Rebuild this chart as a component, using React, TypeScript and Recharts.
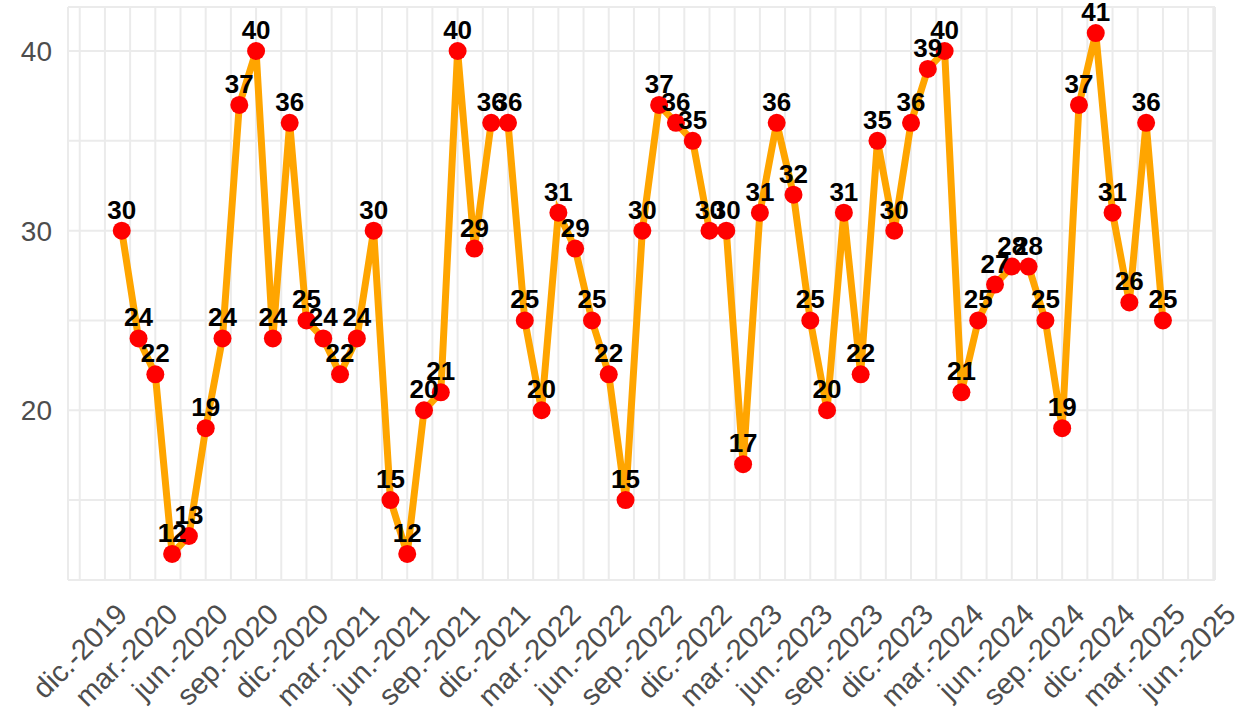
import React from "react";
import { LineChart, Line, XAxis, YAxis, CartesianGrid, LabelList } from "recharts";

// monthly values, jan-2020 .. mar-2025
const values = [
  30, 24, 22, 12, 13, 19, 24, 37, 40, 24, 36, 25,
  24, 22, 24, 30, 15, 12, 20, 21, 40, 29, 36, 36,
  25, 20, 31, 29, 25, 22, 15, 30, 37, 36, 35, 30,
  30, 17, 31, 36, 32, 25, 20, 31, 22, 35, 30, 36,
  39, 40, 21, 25, 27, 28, 28, 25, 19, 37, 41, 31,
  26, 36, 25,
];

// x is month index from jan-2020
const majorTicks = [-1, 2, 5, 8, 11, 14, 17, 20, 23, 26, 29, 32, 35, 38, 41, 44, 47, 50, 53, 56, 59, 62, 65];
const tickLabels = [
  "dic.-2019", "mar.-2020", "jun.-2020", "sep.-2020", "dic.-2020", "mar.-2021",
  "jun.-2021", "sep.-2021", "dic.-2021", "mar.-2022", "jun.-2022", "sep.-2022",
  "dic.-2022", "mar.-2023", "jun.-2023", "sep.-2023", "dic.-2023", "mar.-2024",
  "jun.-2024", "sep.-2024", "dic.-2024", "mar.-2025", "jun.-2025",
];
const minorTicks = [-2.5, 0.5, 3.5, 6.5, 9.5, 12.5, 15.5, 18.5, 21.5, 24.5, 27.5, 30.5, 33.5, 36.5, 39.5, 42.5, 45.5, 48.5, 51.5, 54.5, 57.5, 60.5, 63.5];
const yTicks = [15, 20, 25, 30, 35, 40];
const yLabeled = [20, 30, 40];

const data = values.map((v, i) => ({ m: i, v }));
const xTicks = [...majorTicks, ...minorTicks].sort((a, b) => a - b);

const FONT = '"Liberation Sans", Arial, sans-serif';

const XTick = (props: any) => {
  const { x, y, payload } = props;
  const idx = majorTicks.indexOf(payload.value);
  if (idx < 0) return null;
  const tx = x + 24;
  const ty = y + 28;
  return (
    <text
      x={tx}
      y={ty}
      textAnchor="end"
      transform={`rotate(-45, ${tx}, ${ty})`}
      fill="#4D4D4D"
      fontSize={29}
      fontFamily={FONT}
    >
      {tickLabels[idx]}
    </text>
  );
};

const PointLabel = (props: any) => {
  const { x, y, value } = props;
  return (
    <text x={x} y={y - 12} textAnchor="middle" fill="#000" fontSize={26} fontWeight="bold" fontFamily={FONT}>
      {value}
    </text>
  );
};

export default function App() {
  return (
    <div style={{ position: "absolute", left: 0, top: 0, background: "#fff" }}>
      <LineChart width={1239} height={716} data={data} margin={{ top: 7, right: 24, left: 8, bottom: 0 }}>
        <CartesianGrid stroke="#EBEBEB" strokeWidth={2} />
        <XAxis
          type="number"
          dataKey="m"
          domain={[-3.2, 65.1]}
          allowDataOverflow
          ticks={xTicks}
          interval={0}
          tick={<XTick />}
          axisLine={false}
          tickLine={false}
          height={136}
        />
        <YAxis
          domain={[10.55, 42.45]}
          allowDataOverflow
          ticks={yTicks}
          interval={0}
          tickFormatter={(t: number) => (yLabeled.includes(t) ? String(t) : "")}
          tick={{ fill: "#4D4D4D", fontSize: 28, fontFamily: FONT }}
          axisLine={false}
          tickLine={false}
          tickMargin={10}
          width={60}
        />
        <Line
          type="linear"
          dataKey="v"
          stroke="#FFA500"
          strokeWidth={7}
          dot={{ r: 9, fill: "#FF0000", stroke: "none" }}
          activeDot={false}
          isAnimationActive={false}
        >
          <LabelList dataKey="v" content={<PointLabel />} />
        </Line>
      </LineChart>
    </div>
  );
}
